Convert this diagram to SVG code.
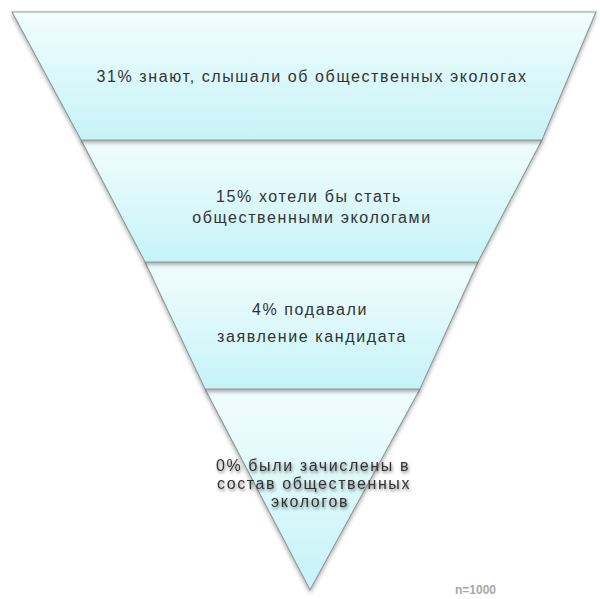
<svg xmlns="http://www.w3.org/2000/svg" width="600" height="599" viewBox="0 0 600 599">
<defs>
<linearGradient id="g" x1="0" y1="0" x2="0" y2="1">
<stop offset="0" stop-color="#f2fdfe"/>
<stop offset="1" stop-color="#c6f3f7"/>
</linearGradient>
<filter id="sh" x="-10%" y="-10%" width="120%" height="130%">
<feGaussianBlur in="SourceAlpha" stdDeviation="2"/>
<feOffset dx="0" dy="2" result="b"/>
<feComponentTransfer><feFuncA type="linear" slope="0.35"/></feComponentTransfer>
<feMerge><feMergeNode/><feMergeNode in="SourceGraphic"/></feMerge>
</filter>
<filter id="tsh" x="-10%" y="-30%" width="120%" height="160%">
<feGaussianBlur in="SourceAlpha" stdDeviation="1.5"/>
<feOffset dx="1" dy="2" result="b"/>
<feComponentTransfer><feFuncA type="linear" slope="0.5"/></feComponentTransfer>
<feMerge><feMergeNode/><feMergeNode in="SourceGraphic"/></feMerge>
</filter>
</defs>
<style>
.seg{fill:url(#g);stroke:#8f9c9c;stroke-width:1.2;filter:url(#sh)}
.t{font-family:"Liberation Sans",Arial,sans-serif;font-size:16px;letter-spacing:1.6px;fill:#333;text-anchor:middle}
.n{font-family:"Liberation Sans",Arial,sans-serif;font-size:12px;fill:#a8a8a8;font-weight:bold}
</style>
<rect width="600" height="599" fill="#fff"/>
<g id="level4">
<polygon class="seg" points="205,389 420,389 310,590"/>
<text class="t" x="313" y="471" filter="url(#tsh)">0% были зачислены в</text>
<text class="t" x="314" y="489" filter="url(#tsh)">состав общественных</text>
<text class="t" x="310" y="507" filter="url(#tsh)">экологов</text>
</g>
<g id="level3">
<polygon class="seg" points="145,262 478,262 420,389 205,389"/>
<text class="t" x="310" y="315">4% подавали</text>
<text class="t" x="312" y="342">заявление кандидата</text>
</g>
<g id="level2">
<polygon class="seg" points="81,140 542,140 478,262 145,262"/>
<text class="t" x="309" y="202">15% хотели бы стать</text>
<text class="t" x="312" y="223">общественными экологами</text>
</g>
<g id="level1">
<polygon class="seg" points="12,12 596,12 542,140 81,140"/>
<text class="t" x="312" y="82">31% знают, слышали об общественных экологах</text>
</g>
<text class="n" x="455" y="594">n=1000</text>
</svg>
